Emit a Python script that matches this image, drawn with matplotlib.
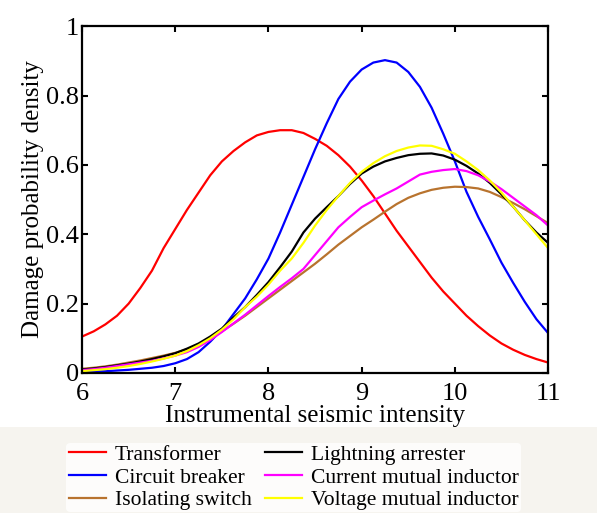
import matplotlib
matplotlib.use("Agg")
import matplotlib.pyplot as plt
from matplotlib.patches import Rectangle

# intensidad sismica (eje x), paso de 0.125
intensidad = [6, 6.125, 6.25, 6.375, 6.5, 6.625, 6.75, 6.875, 7, 7.125,
              7.25, 7.375, 7.5, 7.625, 7.75, 7.875, 8, 8.125, 8.25, 8.375,
              8.5, 8.625, 8.75, 8.875, 9, 9.125, 9.25, 9.375, 9.5, 9.625,
              9.75, 9.875, 10, 10.125, 10.25, 10.375, 10.5, 10.625, 10.75, 10.875, 11]

# densidades
transformer = [0.105, 0.12, 0.14, 0.165, 0.20, 0.245, 0.295, 0.36, 0.415, 0.47,
               0.52, 0.57, 0.61, 0.64, 0.665, 0.685, 0.695, 0.70, 0.70, 0.692,
               0.675, 0.655, 0.628, 0.595, 0.555, 0.51, 0.46, 0.41, 0.365, 0.32,
               0.275, 0.235, 0.20, 0.165, 0.135, 0.108, 0.085, 0.067, 0.052, 0.04, 0.03]
circuit_breaker = [0.004, 0.004, 0.005, 0.007, 0.009, 0.012, 0.015, 0.02, 0.028, 0.04,
                   0.06, 0.09, 0.125, 0.17, 0.215, 0.27, 0.33, 0.405, 0.485, 0.565,
                   0.645, 0.72, 0.79, 0.84, 0.875, 0.895, 0.902, 0.895, 0.868, 0.825,
                   0.765, 0.69, 0.61, 0.522, 0.45, 0.385, 0.318, 0.26, 0.205, 0.155, 0.115]
isolating_switch = [0.012, 0.015, 0.019, 0.024, 0.03, 0.036, 0.043, 0.05, 0.058, 0.068,
                    0.08, 0.098, 0.12, 0.142, 0.165, 0.19, 0.215, 0.24, 0.265, 0.29,
                    0.315, 0.342, 0.37, 0.395, 0.42, 0.442, 0.465, 0.487, 0.505, 0.518,
                    0.528, 0.534, 0.537, 0.536, 0.532, 0.522, 0.507, 0.49, 0.472, 0.452, 0.432]
lightning_arrester = [0.01, 0.013, 0.017, 0.022, 0.027, 0.033, 0.04, 0.048, 0.057, 0.07,
                      0.085, 0.105, 0.128, 0.16, 0.19, 0.225, 0.262, 0.305, 0.35, 0.405,
                      0.445, 0.478, 0.51, 0.545, 0.575, 0.595, 0.61, 0.62, 0.628, 0.632,
                      0.633, 0.627, 0.615, 0.597, 0.575, 0.548, 0.515, 0.48, 0.44, 0.405, 0.375]
current_inductor = [0.008, 0.011, 0.015, 0.02, 0.025, 0.03, 0.035, 0.042, 0.05, 0.06,
                    0.075, 0.095, 0.118, 0.143, 0.168, 0.195, 0.222, 0.248, 0.273, 0.30,
                    0.34, 0.38, 0.42, 0.45, 0.478, 0.497, 0.515, 0.532, 0.552, 0.572,
                    0.58, 0.585, 0.588, 0.582, 0.57, 0.552, 0.53, 0.505, 0.48, 0.455, 0.425]
voltage_inductor = [0.005, 0.008, 0.011, 0.015, 0.02, 0.026, 0.033, 0.041, 0.05, 0.063,
                    0.08, 0.10, 0.125, 0.155, 0.19, 0.22, 0.255, 0.295, 0.33, 0.375,
                    0.425, 0.47, 0.51, 0.548, 0.58, 0.605, 0.625, 0.64, 0.65, 0.656,
                    0.655, 0.645, 0.632, 0.61, 0.585, 0.555, 0.52, 0.48, 0.44, 0.40, 0.36]

plt.rcParams['font.family'] = ['Liberation Serif', 'DejaVu Serif']

fig = plt.figure(figsize=(5.99, 5.13), dpi=100)
ax = fig.add_axes([0.137, 0.273, 0.778, 0.676])

# fondo de la zona de leyenda
fig.patches.append(Rectangle((0, 0), 0.997, 86 / 513, transform=fig.transFigure,
                             facecolor='#f6f4ef', edgecolor='none', zorder=0))

lw = 1.6
ax.plot(intensidad, transformer, color='#ff0000', lw=lw, label='Transformer')
ax.plot(intensidad, circuit_breaker, color='#0000ff', lw=lw, label='Circuit breaker')
ax.plot(intensidad, isolating_switch, color='#b8732e', lw=lw, label='Isolating switch')
ax.plot(intensidad, lightning_arrester, color='black', lw=lw, label='Lightning arrester')
ax.plot(intensidad, current_inductor, color='#ff00ff', lw=lw, label='Current mutual inductor')
ax.plot(intensidad, voltage_inductor, color='#ffff00', lw=lw, label='Voltage mutual inductor')

ax.set_xlim(6, 11)
ax.set_ylim(0, 1)
ax.set_xticks([6, 7, 8, 9, 10, 11])
ax.set_yticks([0, 0.2, 0.4, 0.6, 0.8, 1])
ax.set_yticklabels(['0', '0.2', '0.4', '0.6', '0.8', '1'])
ax.tick_params(direction='in', top=True, right=True, length=4, width=1.5,
               labelsize=19, pad=2)
ax.tick_params(axis='x', pad=7)
for s in ax.spines.values():
    s.set_linewidth(1.6)

ax.set_xlabel('Instrumental seismic intensity', fontsize=18, labelpad=0)
ax.set_ylabel('Damage probability density', fontsize=18, labelpad=2)

leg = fig.legend(loc='upper left', bbox_to_anchor=(0.093, 0.158), ncol=2,
                 fontsize=15.5, frameon=True, handlelength=1.75, handletextpad=0.4,
                 columnspacing=0.6, labelspacing=0.12, borderpad=0.1)
leg.get_frame().set_facecolor('white')
leg.get_frame().set_edgecolor('none')

fig.savefig('out.png', dpi=100)
